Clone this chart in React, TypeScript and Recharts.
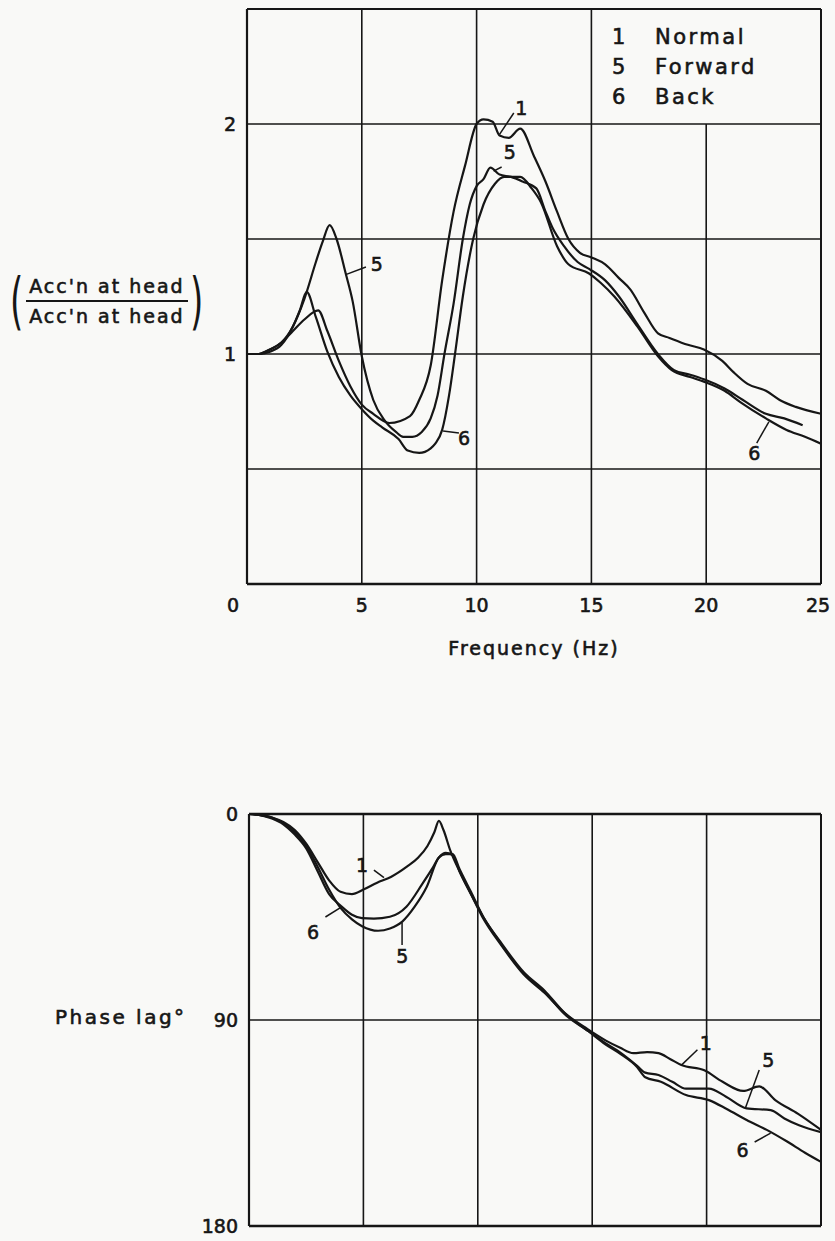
import React from 'react';
import { LineChart, Line, XAxis, YAxis, ReferenceLine, ReferenceDot } from 'recharts';

// ---------- data: amplitude ratio (top) ----------
const freqTicks = [0, 5, 10, 15, 20, 25];
const ampTicks = [1, 2];
const phaseTicks = [0, 90, 180];

const normalFreq = [0, 0.5, 1, 1.5, 2, 2.5, 3.1, 3.5, 4, 4.5, 5, 5.5, 6.2, 7.1, 7.5, 8.0, 8.5, 9.0, 9.5, 10.0, 10.3, 10.7, 11.0, 11.4, 11.9, 12.5, 13.0, 13.5, 14.0, 14.5, 15.0, 15.6, 16.2, 16.7, 17.3, 17.9, 18.4, 19.2, 19.9, 20.7, 21.2, 21.8, 22.6, 23.2, 23.9, 25];
const normalAmp = [1.0, 1.0, 1.02, 1.05, 1.10, 1.15, 1.19, 1.10, 0.97, 0.86, 0.78, 0.74, 0.70, 0.73, 0.80, 0.95, 1.32, 1.62, 1.82, 2.0, 2.02, 2.01, 1.95, 1.94, 1.98, 1.86, 1.75, 1.62, 1.50, 1.44, 1.42, 1.39, 1.33, 1.28, 1.18, 1.09, 1.07, 1.04, 1.02, 0.97, 0.92, 0.87, 0.84, 0.80, 0.77, 0.74];

const forwardFreq = [0, 0.5, 1, 1.5, 2, 2.5, 3, 3.3, 3.6, 3.9, 4.3, 4.6, 5.0, 5.5, 6.0, 6.5, 6.8, 7.2, 7.6, 8.0, 8.3, 8.6, 9.0, 9.4, 9.7, 10.0, 10.3, 10.6, 11.0, 11.5, 12.0, 12.6, 13.0, 13.3, 13.8, 14.4, 14.9, 15.6, 16.2, 17.0, 17.9, 18.6, 19.3, 19.9, 20.8, 21.6, 22.6, 23.4, 24.2];
const forwardAmp = [1.0, 1.0, 1.02, 1.05, 1.12, 1.24, 1.40, 1.49, 1.56, 1.50, 1.35, 1.23, 0.99, 0.80, 0.71, 0.66, 0.64, 0.64, 0.66, 0.72, 0.82, 1.0, 1.22, 1.5, 1.65, 1.73, 1.76, 1.81, 1.78, 1.77, 1.75, 1.72, 1.62, 1.55, 1.47, 1.40, 1.37, 1.32, 1.25, 1.13, 1.0, 0.93, 0.91, 0.89, 0.85, 0.80, 0.74, 0.72, 0.69];

const backFreq = [0, 0.5, 1, 1.5, 2, 2.3, 2.6, 3.0, 3.5, 4.0, 4.5, 5.0, 5.5, 5.9, 6.6, 7.0, 7.5, 8.0, 8.2, 8.5, 8.8, 9.06, 9.4, 9.85, 10.3, 10.8, 11.2, 11.9, 12.4, 12.8, 13.5, 14.0, 14.9, 15.4, 16.0, 17.0, 17.9, 18.5, 19.3, 19.9, 20.8, 21.5, 22.6, 23.5, 24.3, 25];
const backAmp = [1.0, 1.0, 1.01, 1.04, 1.12, 1.19, 1.27, 1.16, 1.01, 0.90, 0.82, 0.76, 0.71, 0.68, 0.63, 0.58, 0.57, 0.59, 0.61, 0.67, 0.82, 1.0, 1.25, 1.5, 1.65, 1.74, 1.77, 1.77, 1.72, 1.66, 1.47, 1.39, 1.35, 1.31, 1.25, 1.12, 0.99, 0.93, 0.90, 0.88, 0.84, 0.79, 0.72, 0.67, 0.64, 0.61];

// ---------- data: phase lag (bottom) ----------
const normalPhaseFreq = [0, 0.5, 1, 1.5, 2, 2.5, 3, 3.5, 4, 4.5, 5, 5.6, 6.2, 6.9, 7.4, 7.8, 8.1, 8.3, 8.5, 8.8, 9.2, 9.7, 10.2, 11, 12, 12.9, 13.8, 14.8, 15.6, 16.2, 16.8, 17.4, 17.9, 18.4, 18.9, 19.9, 20.7, 21.6, 22.3, 23, 24, 25];
const normalPhase = [0, 0.5, 1.5, 3.5, 7, 13, 21, 29, 34, 35, 33, 30, 27.5, 23, 19, 14, 8, 3, 7, 16, 25, 35, 45, 57, 70, 78, 87, 94, 99, 102, 104.5, 104, 104.5, 107, 109.7, 112, 117, 121, 119, 125, 131, 138];

const forwardPhaseFreq = [0, 0.5, 1, 1.5, 2, 2.5, 3, 3.5, 4, 4.5, 4.94, 5.64, 6.16, 6.7, 7.24, 7.77, 8.3, 8.6, 8.9, 9.2, 9.7, 10.24, 11, 12, 12.9, 13.8, 14.85, 15.56, 16.26, 16.96, 17.32, 17.9, 18.5, 19.1, 20.1, 20.85, 21.75, 22.8, 23.4, 24.04, 25];
const forwardPhase = [0, 0.5, 1.5, 4, 8, 14, 23, 33, 41, 46, 49, 51, 50, 47, 40.5, 31.8, 19, 17.5, 17.5, 24, 34, 45, 56, 69, 77, 87, 95, 100, 104.5, 110, 113, 114, 117, 120, 120, 123.5, 128.6, 129.4, 133, 136, 139];

const backPhaseFreq = [0, 0.5, 1, 1.5, 2, 2.5, 3, 3.5, 4, 4.5, 4.94, 5.46, 6.16, 6.88, 7.59, 8.0, 8.3, 8.6, 8.9, 9.2, 9.7, 10.24, 11, 12, 12.9, 13.8, 14.85, 15.56, 16.26, 16.96, 17.32, 18, 19.1, 20.1, 20.9, 21.75, 22.63, 23.5, 24.3, 25];
const backPhase = [0, 0.5, 2, 4.5, 9, 15, 25, 35, 40, 44, 45.5, 45.7, 44.9, 40.5, 30.3, 24, 19, 17, 18, 25, 35, 45, 56.5, 69.5, 77.5, 87.5, 95, 100.5, 105, 110.5, 115, 117, 122.8, 125, 129, 133.7, 138, 143, 148, 152];

const legendNumbers = ['1', '5', '6'];
const legendNames = ['Normal', 'Forward', 'Back'];

const zip = (xs: number[], ys: number[]) => xs.map((f, i) => ({ f, v: ys[i] }));

const topNormal = zip(normalFreq, normalAmp);
const topForward = zip(forwardFreq, forwardAmp);
const topBack = zip(backFreq, backAmp);
const botNormal = zip(normalPhaseFreq, normalPhase);
const botForward = zip(forwardPhaseFreq, forwardPhase);
const botBack = zip(backPhaseFreq, backPhase);

const FONT = "'DejaVu Sans', sans-serif";
const INK = '#161616';
const BG = '#f9f9f7';
const TXT_STROKE = 0.6;

const XTick = (props: any) => {
  const { x, y, payload } = props;
  const dx = payload.value === 0 ? -14 : payload.value === 25 ? -3 : 0;
  return (
    <text x={x + dx} y={y} dy={20} textAnchor="middle" fontFamily={FONT} fontSize={19} fill={INK} stroke={INK} strokeWidth={TXT_STROKE}>
      {payload.value}
    </text>
  );
};

const YTick = (props: any) => {
  const { x, y, payload } = props;
  return (
    <text x={x - 3} y={y} dy={7} textAnchor="end" fontFamily={FONT} fontSize={19} fill={INK} stroke={INK} strokeWidth={TXT_STROKE}>
      {payload.value}
    </text>
  );
};

const lineProps = {
  type: 'monotone' as const,
  dataKey: 'v',
  stroke: INK,
  strokeWidth: 2.2,
  dot: false,
  activeDot: false,
  isAnimationActive: false,
};

const gridStroke = { stroke: INK, strokeWidth: 1.6 };
const lblStyle = { fontFamily: FONT, fontSize: 19, fill: INK, stroke: INK, strokeWidth: TXT_STROKE };
const leader = { stroke: INK, strokeWidth: 1.5 };

const htmlText: React.CSSProperties = { WebkitTextStroke: `${TXT_STROKE}px ${INK}` } as React.CSSProperties;

export default function App() {
  return (
    <div style={{ position: 'absolute', left: 0, top: 0, width: 835, height: 1241, background: BG, fontFamily: FONT, color: INK }}>
      {/* ---------- Top chart ---------- */}
      <div style={{ position: 'absolute', left: 0, top: 0 }}>
        <LineChart width={835} height={640} margin={{ top: 9, right: 14, bottom: 26, left: 0 }}>
          <XAxis type="number" dataKey="f" domain={[0, 25]} ticks={freqTicks} tick={<XTick />} tickLine={false}
            axisLine={{ stroke: INK, strokeWidth: 2.6 }} height={30} allowDataOverflow />
          <YAxis type="number" domain={[0, 2.5]} ticks={ampTicks} width={247} tick={<YTick />} tickLine={false}
            axisLine={{ stroke: INK, strokeWidth: 2.2 }} allowDataOverflow />
          {/* grid */}
          <ReferenceLine x={5} {...gridStroke} />
          <ReferenceLine x={10} {...gridStroke} />
          <ReferenceLine x={15} {...gridStroke} />
          <ReferenceLine segment={[{ x: 20, y: 0 }, { x: 20, y: 2 }]} {...gridStroke} />
          <ReferenceLine y={0.5} {...gridStroke} />
          <ReferenceLine y={1} {...gridStroke} />
          <ReferenceLine y={1.5} {...gridStroke} />
          <ReferenceLine y={2} {...gridStroke} />
          <ReferenceLine y={2.5} stroke={INK} strokeWidth={2} />
          <ReferenceLine x={25} stroke={INK} strokeWidth={2} />

          <Line data={topNormal} {...lineProps} />
          <Line data={topForward} {...lineProps} />
          <Line data={topBack} {...lineProps} />

          {/* curve annotations */}
          <ReferenceLine segment={[{ x: 11.62, y: 2.048 }, { x: 11.0, y: 1.955 }]} {...leader} />
          <ReferenceDot x={11.95} y={2.07} r={0} fill="none" stroke="none" label={{ value: '1', position: 'center', ...lblStyle }} />
          <ReferenceLine segment={[{ x: 11.09, y: 1.813 }, { x: 10.74, y: 1.795 }]} {...leader} />
          <ReferenceDot x={11.45} y={1.875} r={0} fill="none" stroke="none" label={{ value: '5', position: 'center', ...lblStyle }} />
          <ReferenceLine segment={[{ x: 5.18, y: 1.378 }, { x: 4.3, y: 1.345 }]} {...leader} />
          <ReferenceDot x={5.65} y={1.39} r={0} fill="none" stroke="none" label={{ value: '5', position: 'center', ...lblStyle }} />
          <ReferenceLine segment={[{ x: 9.23, y: 0.657 }, { x: 8.54, y: 0.665 }]} {...leader} />
          <ReferenceDot x={9.45} y={0.635} r={0} fill="none" stroke="none" label={{ value: '6', position: 'center', ...lblStyle }} />
          <ReferenceLine segment={[{ x: 22.2, y: 0.613 }, { x: 22.73, y: 0.705 }]} {...leader} />
          <ReferenceDot x={22.1} y={0.57} r={0} fill="none" stroke="none" label={{ value: '6', position: 'center', ...lblStyle }} />
        </LineChart>
      </div>

      {/* legend */}
      {legendNumbers.map((n, i) => (
        <div key={n} style={{ ...htmlText, position: 'absolute', left: 612, top: 24 + i * 30, fontSize: 21, letterSpacing: 2.5, lineHeight: '26px', whiteSpace: 'nowrap' }}>
          <span style={{ display: 'inline-block', width: 43 }}>{n}</span>
          <span>{legendNames[i]}</span>
        </div>
      ))}

      {/* y label top */}
      <div style={{ ...htmlText, position: 'absolute', left: 4, top: 268, height: 66, display: 'flex', alignItems: 'center', fontSize: 19, letterSpacing: 2 }}>
        <span style={{ fontSize: 62, lineHeight: '66px', display: 'inline-block', transform: 'scaleX(0.55)', marginRight: -4, WebkitTextStroke: '0px' } as React.CSSProperties}>(</span>
        <div style={{ display: 'flex', flexDirection: 'column', alignItems: 'center' }}>
          <div style={{ borderBottom: `2px solid ${INK}`, padding: '0 3px 3px', lineHeight: '22px' }}>Acc'n at head</div>
          <div style={{ paddingTop: 3, lineHeight: '22px' }}>Acc'n at head</div>
        </div>
        <span style={{ fontSize: 62, lineHeight: '66px', display: 'inline-block', transform: 'scaleX(0.55)', marginLeft: -4, WebkitTextStroke: '0px' } as React.CSSProperties}>)</span>
      </div>

      {/* x label */}
      <div style={{ ...htmlText, position: 'absolute', left: 434, width: 200, top: 636, textAlign: 'center', fontSize: 19, letterSpacing: 2, lineHeight: '24px' }}>
        Frequency (Hz)
      </div>

      {/* ---------- Bottom chart ---------- */}
      <div style={{ position: 'absolute', left: 0, top: 780 }}>
        <LineChart width={835} height={461} margin={{ top: 34, right: 14, bottom: 15, left: 0 }}>
          <XAxis type="number" dataKey="f" domain={[0, 25]} ticks={freqTicks} hide height={0} allowDataOverflow />
          <YAxis type="number" domain={[0, 180]} reversed ticks={phaseTicks} width={249} tick={<YTick />} tickLine={false}
            axisLine={{ stroke: INK, strokeWidth: 2.2 }} allowDataOverflow />
          <ReferenceLine x={5} {...gridStroke} />
          <ReferenceLine x={10} {...gridStroke} />
          <ReferenceLine x={15} {...gridStroke} />
          <ReferenceLine x={20} {...gridStroke} />
          <ReferenceLine y={90} {...gridStroke} />
          <ReferenceLine y={0} stroke={INK} strokeWidth={2.4} />
          <ReferenceLine y={180} stroke={INK} strokeWidth={2.4} />
          <ReferenceLine x={25} stroke={INK} strokeWidth={2} />

          <Line data={botNormal} {...lineProps} />
          <Line data={botForward} {...lineProps} />
          <Line data={botBack} {...lineProps} />

          <ReferenceLine segment={[{ x: 5.46, y: 24.5 }, { x: 5.9, y: 27.8 }]} {...leader} />
          <ReferenceDot x={4.94} y={22.5} r={0} fill="none" stroke="none" label={{ value: '1', position: 'center', ...lblStyle }} />
          <ReferenceLine segment={[{ x: 3.34, y: 45 }, { x: 4.05, y: 40.6 }]} {...leader} />
          <ReferenceDot x={2.8} y={51.6} r={0} fill="none" stroke="none" label={{ value: '6', position: 'center', ...lblStyle }} />
          <ReferenceLine segment={[{ x: 6.69, y: 57.2 }, { x: 6.69, y: 47.5 }]} {...leader} />
          <ReferenceDot x={6.7} y={62} r={0} fill="none" stroke="none" label={{ value: '5', position: 'center', ...lblStyle }} />
          <ReferenceLine segment={[{ x: 19.6, y: 103 }, { x: 18.9, y: 109.7 }]} {...leader} />
          <ReferenceDot x={19.97} y={100} r={0} fill="none" stroke="none" label={{ value: '1', position: 'center', ...lblStyle }} />
          <ReferenceLine segment={[{ x: 22.3, y: 111.8 }, { x: 21.7, y: 128.3 }]} {...leader} />
          <ReferenceDot x={22.7} y={107.5} r={0} fill="none" stroke="none" label={{ value: '5', position: 'center', ...lblStyle }} />
          <ReferenceLine segment={[{ x: 22.1, y: 143.3 }, { x: 22.8, y: 139.4 }]} {...leader} />
          <ReferenceDot x={21.57} y={146.8} r={0} fill="none" stroke="none" label={{ value: '6', position: 'center', ...lblStyle }} />
        </LineChart>
      </div>

      {/* phase label */}
      <div style={{ ...htmlText, position: 'absolute', left: 55, top: 1005, fontSize: 20, letterSpacing: 2.5, lineHeight: '24px', whiteSpace: 'nowrap' }}>
        Phase lag°
      </div>
    </div>
  );
}
